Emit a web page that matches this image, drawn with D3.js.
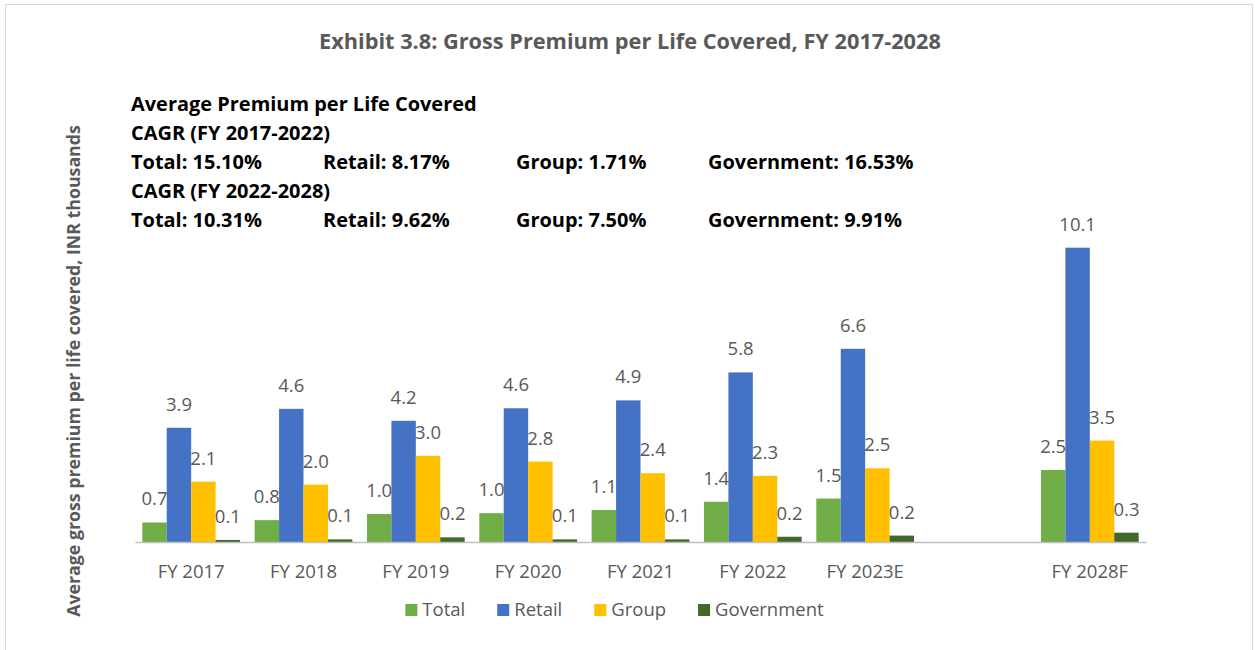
<!DOCTYPE html>
<html>
<head>
<meta charset="utf-8">
<script src="https://cdn.jsdelivr.net/npm/d3@7"></script>
<style>
  html, body { margin: 0; padding: 0; background: #fff; }
  svg { display: block; font-family: "Open Sans", sans-serif; }
</style>
</head>
<body>
<svg id="chart" width="1255" height="650"></svg>
<script>
// ---- data ----
const categories = ["FY 2017", "FY 2018", "FY 2019", "FY 2020", "FY 2021", "FY 2022", "FY 2023E", "", "FY 2028F"];
const seriesNames = ["Total", "Retail", "Group", "Government"];
const totalValues      = [0.67, 0.75, 0.96, 0.99, 1.10, 1.38, 1.49, null, 2.47];
const retailValues     = [3.92, 4.57, 4.16, 4.59, 4.86, 5.82, 6.63, null, 10.10];
const groupValues      = [2.07, 1.97, 2.96, 2.76, 2.36, 2.27, 2.53, null, 3.48];
const governmentValues = [0.07, 0.09, 0.16, 0.09, 0.09, 0.18, 0.22, null, 0.32];
const seriesValues = [totalValues, retailValues, groupValues, governmentValues];
const seriesColors = ["#70ad47", "#4472c4", "#ffc000", "#43682b"];

const chartTitle = "Exhibit 3.8: Gross Premium per Life Covered, FY 2017-2028";
const yAxisTitle = "Average gross premium per life covered, INR thousands";
const noteHeader = "Average Premium per Life Covered";
const cagrPeriods = ["CAGR (FY 2017-2022)", "CAGR (FY 2022-2028)"];
const cagr2017_2022 = ["Total: 15.10%", "Retail: 8.17%", "Group: 1.71%", "Government: 16.53%"];
const cagr2022_2028 = ["Total: 10.31%", "Retail: 9.62%", "Group: 7.50%", "Government: 9.91%"];

// ---- layout ----
const svg = d3.select("#chart");
const grey = "#595959";
const baseY = 542;

function fitWidth(sel, target) {
  const node = sel.node();
  const fs = parseFloat(sel.attr("font-size"));
  const w = node.getComputedTextLength();
  if (w > 0) sel.attr("font-size", (fs * target / w).toFixed(2));
  return sel;
}

// border
svg.append("rect")
  .attr("x", 5.5).attr("y", 4.5)
  .attr("width", 1247).attr("height", 700)
  .attr("fill", "none").attr("stroke", "#d9d9d9").attr("stroke-width", 1);

// title
const t = svg.append("text")
  .attr("x", 630).attr("y", 49)
  .attr("text-anchor", "middle")
  .attr("font-weight", "bold")
  .attr("font-size", 19)
  .attr("fill", grey)
  .text(chartTitle);
fitWidth(t, 622);

// y-axis title
const yt = svg.append("text")
  .attr("transform", "translate(80,371) rotate(-90)")
  .attr("text-anchor", "middle")
  .attr("font-weight", "bold")
  .attr("font-size", 17)
  .attr("fill", grey)
  .text(yAxisTitle);
fitWidth(yt, 492);

// annotation block
const hdr = svg.append("text")
  .attr("x", 131).attr("y", 111)
  .attr("font-weight", "bold")
  .attr("font-size", 17)
  .attr("fill", "#000")
  .text(noteHeader);
fitWidth(hdr, 346);
const noteFs = hdr.attr("font-size");
const colX = [131, 323, 516, 708];
const rows = [
  { y: 140, items: [cagrPeriods[0]] },
  { y: 169, items: cagr2017_2022 },
  { y: 198, items: [cagrPeriods[1]] },
  { y: 227, items: cagr2022_2028 }
];
rows.forEach(r => {
  r.items.forEach((s, i) => {
    svg.append("text")
      .attr("x", colX[i]).attr("y", r.y)
      .attr("font-weight", "bold")
      .attr("font-size", noteFs)
      .attr("fill", "#000")
      .text(s);
  });
});

// scales
const x0 = d3.scaleBand()
  .domain(categories)
  .range([135, 1146])
  .paddingInner(0.13)
  .paddingOuter(0.065);
const x1 = d3.scaleBand()
  .domain(seriesNames)
  .range([0, x0.bandwidth()])
  .padding(0);
const y = d3.scaleLinear().domain([0, 12]).range([baseY, baseY - 12 * 29.14]);

// bars
const groups = svg.append("g").selectAll("g")
  .data(categories.map((c, i) => ({ c, i })).filter(d => d.c !== ""))
  .join("g")
  .attr("transform", d => `translate(${x0(d.c)},0)`);

groups.selectAll("rect")
  .data(d => seriesNames.map((s, k) => ({ s, v: seriesValues[k][d.i], k })))
  .join("rect")
  .attr("x", d => x1(d.s))
  .attr("y", d => y(d.v))
  .attr("width", x1.bandwidth())
  .attr("height", d => baseY - y(d.v))
  .attr("fill", d => seriesColors[d.k]);

groups.selectAll("text.lbl")
  .data(d => seriesNames.map((s, k) => ({ s, v: seriesValues[k][d.i], k })))
  .join("text")
  .attr("class", "lbl")
  .attr("x", d => x1(d.s) + x1.bandwidth() / 2)
  .attr("y", d => y(d.v) - 17)
  .attr("text-anchor", "middle")
  .attr("font-size", 18.5)
  .attr("fill", grey)
  .text(d => d.v.toFixed(1));

// x axis
const xAxis = svg.append("g")
  .attr("transform", `translate(0,${baseY})`)
  .call(d3.axisBottom(x0).tickSize(0).tickSizeOuter(0).tickPadding(23));
xAxis.select(".domain").attr("stroke", "#bfbfbf").attr("stroke-width", 1.5);
xAxis.selectAll(".tick text")
  .attr("font-size", 18.5)
  .attr("font-family", "Open Sans, sans-serif")
  .attr("fill", grey);

// legend
const legend = svg.append("g");
let lx = 0;
seriesNames.forEach((s, k) => {
  const g = legend.append("g");
  g.append("rect").attr("x", lx).attr("y", 604).attr("width", 12).attr("height", 12).attr("fill", seriesColors[k]);
  const tx = g.append("text").attr("x", lx + 17).attr("y", 616)
    .attr("font-size", 18.5).attr("fill", grey).text(s);
  const w = tx.node().getComputedTextLength();
  lx += 17 + w + 32;
});
const legendWidth = lx - 32;
legend.attr("transform", `translate(${614.5 - legendWidth / 2},0)`);
</script>
</body>
</html>
